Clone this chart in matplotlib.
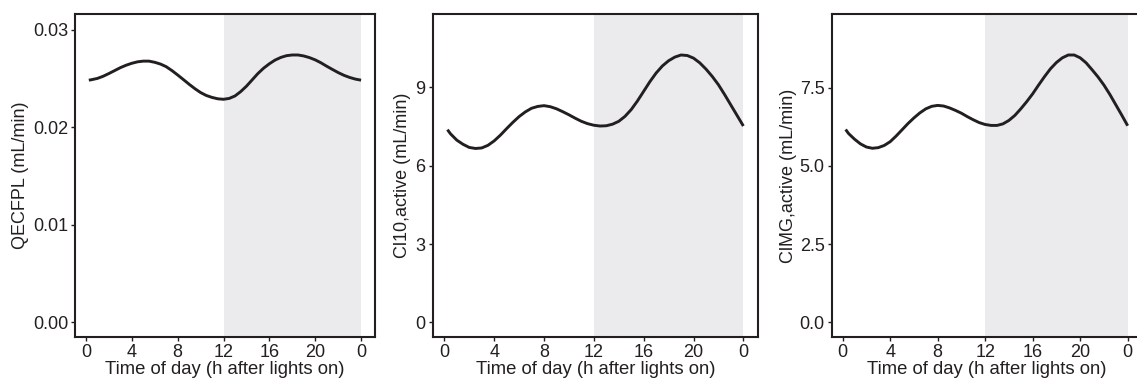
import matplotlib
matplotlib.use("Agg")
import matplotlib.pyplot as plt

plt.rcParams['font.family'] = ['Liberation Sans', 'DejaVu Sans']

# Data (hours after lights on)
hours = [0.25, 0.5, 1, 1.5, 2, 2.5, 3, 3.5, 4, 4.5, 5, 5.5, 6, 6.5, 7, 7.5,
         8, 8.5, 9, 9.5, 10, 10.5, 11, 11.5, 12, 12.5, 13, 13.5, 14, 14.5,
         15, 15.5, 16, 16.5, 17, 17.5, 18, 18.5, 19, 19.5, 20, 20.5, 21,
         21.5, 22, 22.5, 23, 23.5, 24]

qecfpl = [0.02482, 0.02487, 0.02500, 0.02522, 0.02550, 0.02580, 0.02610,
          0.02635, 0.02655, 0.02670, 0.02677, 0.02677, 0.02665, 0.02647,
          0.02620, 0.02580, 0.02535, 0.02488, 0.02440, 0.02395, 0.02355,
          0.02325, 0.02305, 0.02291, 0.02286, 0.02295, 0.02320, 0.02365,
          0.02420, 0.02485, 0.02550, 0.02605, 0.02650, 0.02688, 0.02715,
          0.02733, 0.02740, 0.02740, 0.02730, 0.02713, 0.02690, 0.02660,
          0.02625, 0.02592, 0.02560, 0.02532, 0.02510, 0.02493, 0.02482]

cl10 = [7.38, 7.22, 6.98, 6.82, 6.70, 6.66, 6.68, 6.78, 6.95, 7.17, 7.42,
        7.66, 7.88, 8.06, 8.20, 8.27, 8.30, 8.26, 8.18, 8.07, 7.95, 7.82,
        7.70, 7.61, 7.55, 7.52, 7.53, 7.59, 7.70, 7.89, 8.15, 8.48, 8.85,
        9.22, 9.55, 9.82, 10.02, 10.16, 10.24, 10.22, 10.12, 9.94, 9.70,
        9.42, 9.10, 8.72, 8.32, 7.92, 7.52]

clmg = [6.16, 6.03, 5.85, 5.70, 5.60, 5.56, 5.58, 5.65, 5.77, 5.95, 6.15,
        6.35, 6.53, 6.69, 6.82, 6.90, 6.93, 6.91, 6.85, 6.77, 6.68, 6.57,
        6.47, 6.38, 6.32, 6.29, 6.29, 6.34, 6.45, 6.61, 6.82, 7.05, 7.30,
        7.58, 7.85, 8.10, 8.30, 8.45, 8.54, 8.54, 8.45, 8.29, 8.07, 7.84,
        7.58, 7.28, 6.95, 6.62, 6.28]

xticks = [0, 4, 8, 12, 16, 20, 24]
xticklabels = ['0', '4', '8', '12', '16', '20', '0']

panels = [
    (qecfpl, 'QECFPL (mL/min)', [0.00, 0.01, 0.02, 0.03],
     ['0.00', '0.01', '0.02', '0.03'], (-0.0015, 0.0316)),
    (cl10, 'Cl10,active (mL/min)', [0, 3, 6, 9],
     ['0', '3', '6', '9'], (-0.56, 11.81)),
    (clmg, 'ClMG,active (mL/min)', [0.0, 2.5, 5.0, 7.5],
     ['0.0', '2.5', '5.0', '7.5'], (-0.47, 9.85)),
]

W, H = 1137, 380
# left px, width px, ylabel x (axes fraction)
boxes = [(75.2, 299.5, -0.155), (432.6, 325.6, -0.065), (831.5, 310.3, -0.11)]

ink = '#231F20'
fig = plt.figure(figsize=(W / 100, H / 100), dpi=100)

for i, ((vals, ylab, yt, ytl, ylim), (left, width, ylx)) in enumerate(zip(panels, boxes)):
    ax = fig.add_axes([left / W, 43 / H, width / W, 323 / H])
    ax.axvspan(12, 24, color='#EBEBED', lw=0, zorder=0)
    ax.plot(hours, vals, color=ink, lw=2.1, zorder=2,
            solid_joinstyle='round', solid_capstyle='butt')
    ax.set_xlim(-0.94, 25.19)
    ax.set_ylim(*ylim)
    ax.set_xticks(xticks)
    ax.set_xticklabels(xticklabels)
    ax.set_yticks(yt)
    ax.set_yticklabels(ytl)
    ax.tick_params(direction='out', length=3, width=1, color=ink,
                   labelcolor=ink, labelsize=13, pad=2)
    for sp in ax.spines.values():
        sp.set_linewidth(1.5)
        sp.set_color(ink)
    if i == 2:
        # the last panel runs past the right edge of the figure
        ax.spines['right'].set_visible(False)
    ax.set_xlabel('Time of day (h after lights on)', fontsize=13.3, color=ink)
    ax.xaxis.set_label_coords(0.5, -0.075)
    ax.set_ylabel(ylab, fontsize=13, color=ink)
    ax.yaxis.set_label_coords(ylx, 0.5)

fig.savefig('out.png', dpi=100)
